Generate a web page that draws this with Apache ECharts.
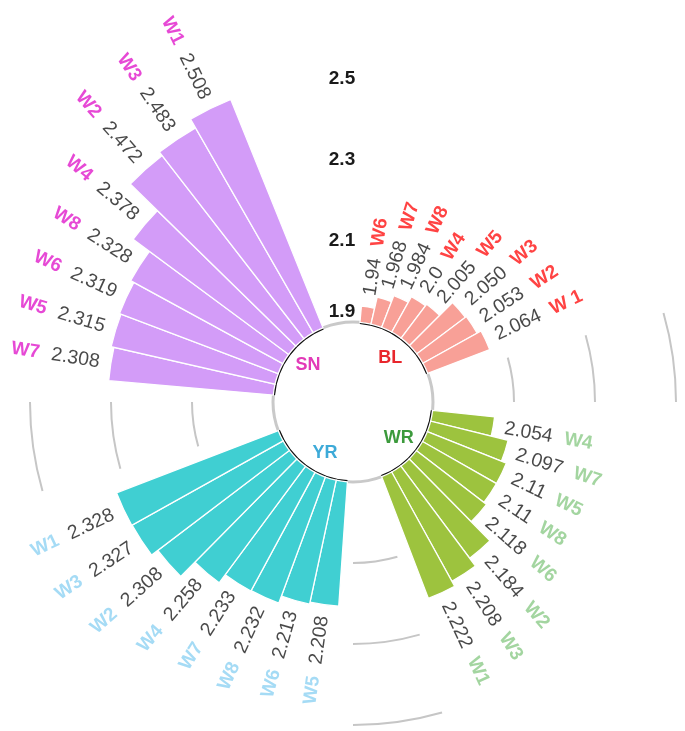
<!DOCTYPE html>
<html><head><meta charset="utf-8">
<script src="https://cdn.jsdelivr.net/npm/echarts@6/dist/echarts.min.js"></script>
<style>html,body{margin:0;padding:0;background:#fff}#c{width:685px;height:731px}</style>
</head><body><div id="c"></div>
<script>
// ---- data ----
const groupNames = ['BL', 'WR', 'YR', 'SN'];
const blCats = ['W6', 'W7', 'W8', 'W4', 'W5', 'W3', 'W2', 'W 1'];
const blVals = [1.94, 1.968, 1.984, 2.0, 2.005, 2.050, 2.053, 2.064];
const blText = ['1.94', '1.968', '1.984', '2.0', '2.005', '2.050', '2.053', '2.064'];
const wrCats = ['W4', 'W7', 'W5', 'W8', 'W6', 'W2', 'W3', 'W1'];
const wrVals = [2.054, 2.097, 2.11, 2.11, 2.118, 2.184, 2.208, 2.222];
const wrText = ['2.054', '2.097', '2.11', '2.11', '2.118', '2.184', '2.208', '2.222'];
const yrCats = ['W5', 'W6', 'W8', 'W7', 'W4', 'W2', 'W3', 'W1'];
const yrVals = [2.208, 2.213, 2.232, 2.233, 2.258, 2.308, 2.327, 2.328];
const yrText = ['2.208', '2.213', '2.232', '2.233', '2.258', '2.308', '2.327', '2.328'];
const snCats = ['W7', 'W5', 'W6', 'W8', 'W4', 'W2', 'W3', 'W1'];
const snVals = [2.308, 2.315, 2.319, 2.328, 2.378, 2.472, 2.483, 2.508];
const snText = ['2.308', '2.315', '2.319', '2.328', '2.378', '2.472', '2.483', '2.508'];
const radialTicks = [1.9, 2.1, 2.3, 2.5];

// ---- layout / style ----
const FONT = '"Liberation Sans", Arial, Helvetica, sans-serif';
const CX = 353, CY = 402, R0 = 80, R1 = 363.5;
const RMIN = 1.9, RMAX = 2.6, RSTEP = 0.2;
const LABEL_GAP = 0.028;
const groups = [
  { name: groupNames[0], cats: blCats, vals: blVals, text: blText, start: 85, end: 21, bar: '#F8A097', w: '#FF1414', c: '#E8262C', cAng: 50 },
  { name: groupNames[1], cats: wrCats, vals: wrVals, text: wrText, start: -6, end: -69, bar: '#9DC33E', w: '#8CCB88', c: '#3C9A3C', cAng: -38 },
  { name: groupNames[2], cats: yrCats, vals: yrVals, text: yrText, start: 266, end: 201, bar: '#40CFD2', w: '#8ED2F2', c: '#3DAAD8', cAng: 241 },
  { name: groupNames[3], cats: snCats, vals: snVals, text: snText, start: 175, end: 112, bar: '#D39CF8', w: '#E01CCB', c: '#E23AB8', cAng: 141 }
];
const gapArcs = [[16, 0], [-74, -90], [196, 180]];

const polar = [], angleAxis = [], radiusAxis = [], series = [];
function addPolar(start, end, angleType, cats, splitColors, splitWidth, z, labelOpt) {
  const idx = polar.length;
  polar.push({ center: [CX, CY], radius: [R0, R1] });
  const aa = { polarIndex: idx, startAngle: start, endAngle: end, clockwise: true,
    axisLine: { show: false }, axisTick: { show: false }, axisLabel: { show: false }, splitLine: { show: false } };
  if (angleType === 'category') { aa.type = 'category'; aa.data = cats; }
  else { aa.type = 'value'; aa.min = 0; aa.max = 1; }
  angleAxis.push(aa);
  radiusAxis.push({ polarIndex: idx, type: 'value', min: RMIN, max: RMAX, interval: RSTEP, startValue: RMIN, z: z,
    axisLine: { show: false }, axisTick: { show: false },
    axisLabel: labelOpt || { show: false },
    splitLine: { show: !!splitColors, lineStyle: { color: splitColors || '#000', width: splitWidth || 1 } } });
  return idx;
}

// full inner circle (gray) + radial tick labels
addPolar(90, -270, 'value', null, ['#C9C9C9', 'transparent', 'transparent', 'transparent', 'transparent'], 3, 1, {
  show: true, margin: 11, align: 'center', verticalAlign: 'middle',
  color: '#1a1a1a', fontSize: 19, fontWeight: 'bold', fontFamily: FONT,
  formatter: function (v) {
    const hit = radialTicks.find(t => Math.abs(t - v) < 1e-6);
    if (hit === undefined) return '';
    return hit === radialTicks[0] ? '{a|' + hit.toFixed(1) + '}' : hit.toFixed(1);
  },
  rich: { a: { color: '#1a1a1a', fontSize: 19, fontWeight: 'bold', fontFamily: FONT, padding: [0, 0, 20, 0] } }
});

// gap arcs
gapArcs.forEach(g => addPolar(g[0], g[1], 'value', null,
  ['transparent', '#C6C6C6', '#C6C6C6', '#C6C6C6', 'transparent'], 2, 1));

// groups
const graphics = [];
groups.forEach(g => {
  const pi = addPolar(g.start, g.end, 'category', g.cats,
    ['#111', 'transparent', 'transparent', 'transparent', 'transparent'], 3.5, 2);
  series.push({
    type: 'bar', coordinateSystem: 'polar', polarIndex: pi, data: g.vals,
    barCategoryGap: '0%', z: 3,
    itemStyle: { color: g.bar, borderColor: '#fff', borderWidth: 1.3 },
    silent: true
  });
  const n = g.cats.length;
  const step = (g.start - g.end) / n;
  series.push({
    type: 'scatter', coordinateSystem: 'polar', polarIndex: pi, symbolSize: 0, clip: false, z: 4, silent: true,
    data: g.vals.map((v, i) => {
      const theta = g.start - (i + 0.5) * step;
      const t = ((theta % 360) + 360) % 360;
      const left = t > 90 && t < 270;
      return {
        value: [v + LABEL_GAP, i],
        label: {
          show: true, position: [0, 0],
          rotate: left ? theta - 180 : theta,
          align: left ? 'right' : 'left', verticalAlign: 'middle',
          formatter: left ? '{w|' + g.cats[i] + '}{v|' + g.text[i] + '}' : '{v|' + g.text[i] + '}{w|' + g.cats[i] + '}',
          rich: {
            v: { color: '#1a1a1a', fontSize: 19.5, fontFamily: FONT },
            w: { color: g.w, fontSize: 19, fontWeight: 'bold', fontFamily: FONT, padding: left ? [0, 12, 0, 0] : [0, 0, 0, 12] }
          }
        }
      };
    })
  });
  const a = g.cAng * Math.PI / 180;
  graphics.push({ type: 'text', x: CX + 58 * Math.cos(a), y: CY - 58 * Math.sin(a), z: 10,
    style: { text: g.name, fill: g.c, font: 'bold 18px ' + FONT, textAlign: 'center', textVerticalAlign: 'middle' } });
});

const chart = echarts.init(document.getElementById('c'), null, { renderer: 'canvas' });
chart.setOption({
  animation: false,
  backgroundColor: '#fff',
  polar: polar, angleAxis: angleAxis, radiusAxis: radiusAxis, series: series,
  graphic: graphics
});
</script></body></html>
